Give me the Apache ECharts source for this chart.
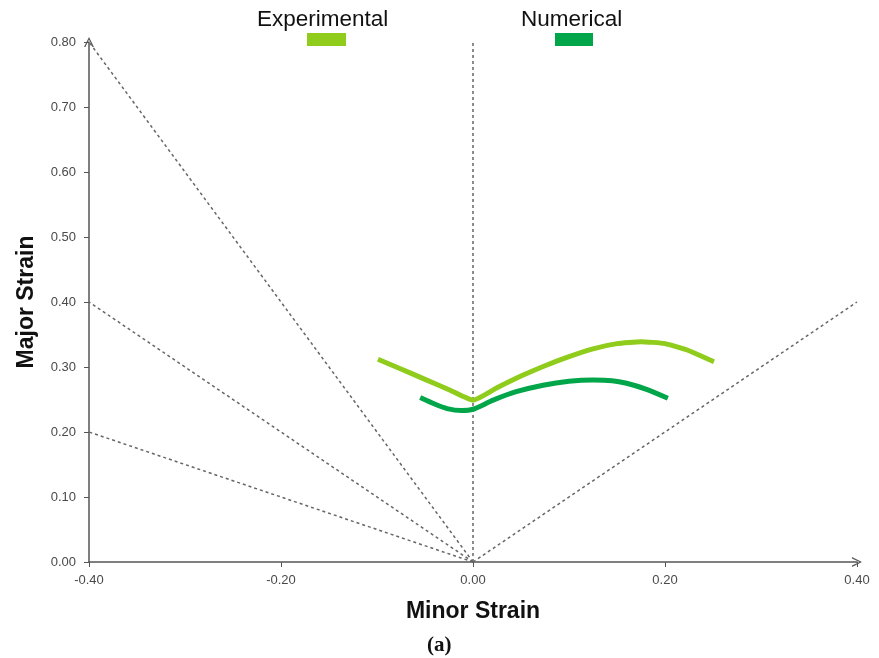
<!DOCTYPE html>
<html>
<head>
<meta charset="utf-8">
<script src="https://cdn.jsdelivr.net/npm/echarts@6/dist/echarts.min.js"></script>
<style>
  html, body { margin: 0; padding: 0; background: #fff; }
  #chart { width: 879px; height: 658px; }
</style>
</head>
<body>
<div id="chart"></div>
<script>
// Forming limit style plot: minor strain vs major strain
const xTicks = [-0.4, -0.2, 0.0, 0.2, 0.4];
const yTicks = [0.0, 0.1, 0.2, 0.3, 0.4, 0.5, 0.6, 0.7, 0.8];

// Experimental strain path (minor, major)
const experimentalMinor = [-0.099, -0.075, -0.05, -0.025, 0.0, 0.025, 0.05, 0.075, 0.1, 0.125, 0.15, 0.175, 0.2, 0.225, 0.251];
const experimentalMajor = [0.312, 0.297, 0.281, 0.265, 0.249, 0.268, 0.286, 0.302, 0.316, 0.328, 0.336, 0.339, 0.336, 0.325, 0.308];

// Numerical strain path (minor, major)
const numericalMinor = [-0.055, -0.04, -0.027, -0.012, 0.0, 0.021, 0.045, 0.073, 0.1, 0.125, 0.145, 0.16, 0.18, 0.203];
const numericalMajor = [0.253, 0.243, 0.236, 0.233, 0.235, 0.249, 0.262, 0.272, 0.278, 0.280, 0.279, 0.275, 0.266, 0.252];

// Reference strain-ratio lines from the origin
const refLineEnds = [[-0.4, 0.8], [-0.4, 0.4], [-0.4, 0.2], [0.0, 0.8], [0.4, 0.4]];

const expColor = '#8FCC1C';
const numColor = '#00A649';
const sans = '"Liberation Sans", Arial, sans-serif';
// open chevron used as the axis end arrow
const openArrow = 'path://M0,10 L5,0 L10,10 L8.6,10 L5,2.6 L1.4,10 Z';

const zip = (xs, ys) => xs.map((x, i) => [x, ys[i]]);

const refSeries = refLineEnds.map((end, i) => ({
  type: 'line',
  name: 'ref' + i,
  data: [[0, 0], end],
  symbol: 'none',
  silent: true,
  z: 1,
  lineStyle: { color: '#666', width: 1.5, type: [3, 3] }
}));

const chart = echarts.init(document.getElementById('chart'));
chart.setOption({
  animation: false,
  grid: { left: 89, right: 22, top: 42, bottom: 96 },
  legend: [
    {
      data: ['Experimental'], left: 302, top: 28, icon: 'rect',
      itemWidth: 39, itemHeight: 13, formatter: () => '', selectedMode: false
    },
    {
      data: ['Numerical'], left: 550, top: 28, icon: 'rect',
      itemWidth: 38, itemHeight: 13, formatter: () => '', selectedMode: false
    }
  ],
  graphic: [
    { type: 'text', left: 257, top: 8, style: { text: 'Experimental', font: '22.5px ' + sans, fill: '#111' } },
    { type: 'text', left: 521, top: 8, style: { text: 'Numerical', font: '22.5px ' + sans, fill: '#111' } },
    { type: 'text', left: 427, top: 635, style: { text: '(a)', font: 'bold 21px "Liberation Serif", "DejaVu Serif", serif', fill: '#111' } }
  ],
  xAxis: {
    type: 'value', min: xTicks[0], max: xTicks[xTicks.length - 1], interval: 0.2,
    name: 'Minor Strain', nameLocation: 'middle', nameGap: 38,
    nameTextStyle: { fontSize: 23, fontWeight: 'bold', color: '#111', fontFamily: sans },
    splitLine: { show: false },
    axisLine: { lineStyle: { color: '#555', width: 1.5 }, symbol: ['none', openArrow], symbolSize: [10, 10], symbolOffset: [0, 0] },
    axisTick: { show: true, length: 5, lineStyle: { color: '#555' } },
    axisLabel: { formatter: v => v.toFixed(2), fontSize: 13, color: '#4a4a4a', margin: 12, fontFamily: sans }
  },
  yAxis: {
    type: 'value', min: yTicks[0], max: yTicks[yTicks.length - 1], interval: 0.1,
    name: 'Major Strain', nameLocation: 'middle', nameGap: 51,
    nameTextStyle: { fontSize: 23, fontWeight: 'bold', color: '#111', fontFamily: sans },
    splitLine: { show: false },
    axisLine: { show: true, onZero: false, lineStyle: { color: '#555', width: 1.5 }, symbol: ['none', openArrow], symbolSize: [10, 10], symbolOffset: [0, 0] },
    axisTick: { show: true, length: 5, lineStyle: { color: '#555' } },
    axisLabel: { formatter: v => v.toFixed(2), fontSize: 13, color: '#4a4a4a', margin: 13, fontFamily: sans }
  },
  series: [
    ...refSeries,
    {
      type: 'line', name: 'Experimental', data: zip(experimentalMinor, experimentalMajor),
      symbol: 'none', smooth: 0.15, z: 3, color: expColor,
      lineStyle: { color: expColor, width: 5 }
    },
    {
      type: 'line', name: 'Numerical', data: zip(numericalMinor, numericalMajor),
      symbol: 'none', smooth: 0.25, z: 3, color: numColor,
      lineStyle: { color: numColor, width: 5 }
    }
  ]
});
</script>
</body>
</html>
